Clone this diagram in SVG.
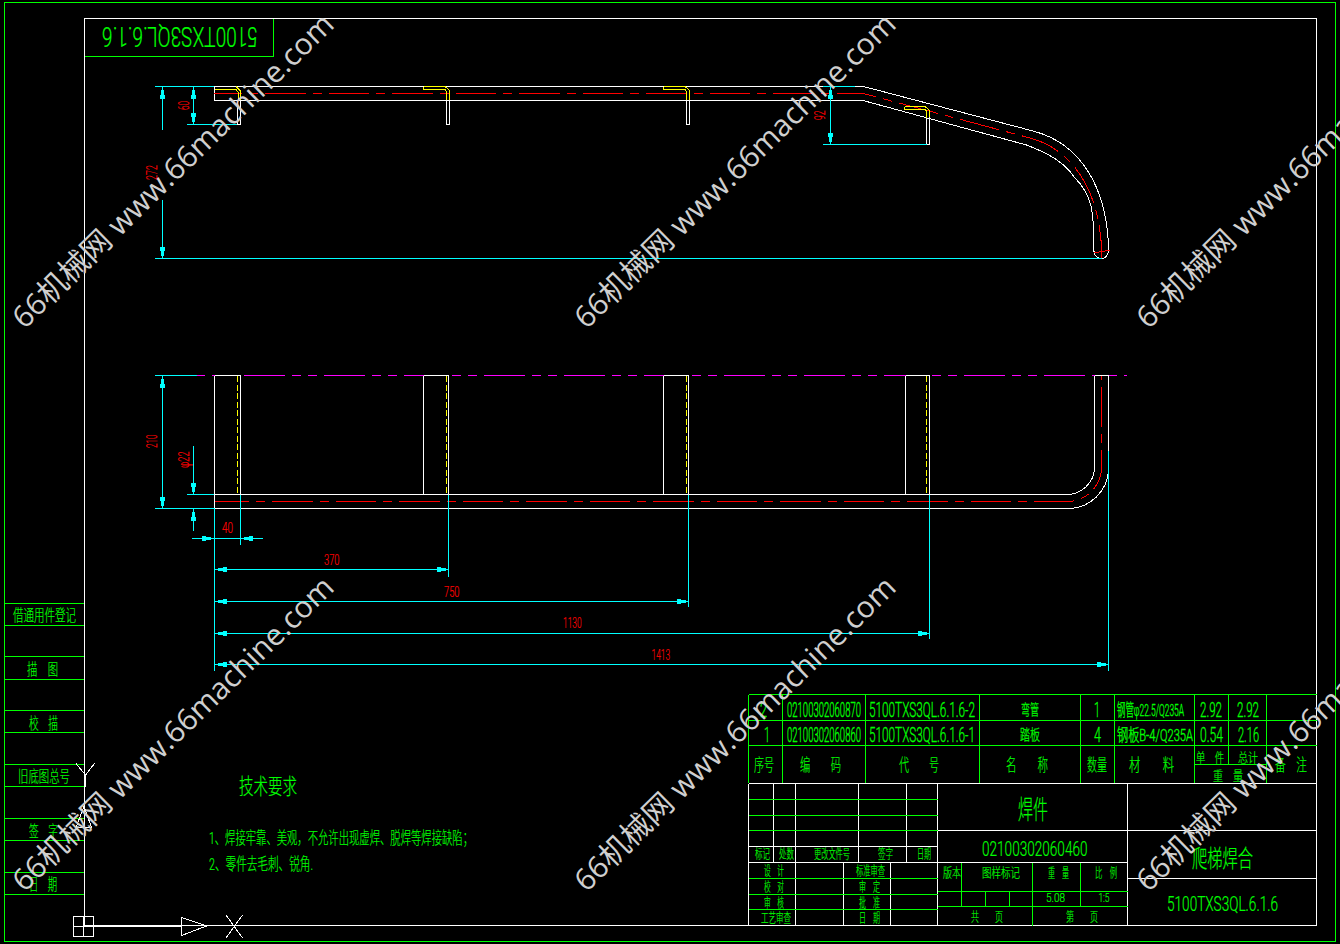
<svg xmlns="http://www.w3.org/2000/svg" width="1340" height="944" viewBox="0 0 1340 944">
<style>
.g{stroke:#0f0}.w{stroke:#fff}.c{stroke:#0ff}.y{stroke:#ff0}
path,line,polyline,polygon{fill:none;stroke-width:1;shape-rendering:crispEdges}
.rd{stroke:#f00;stroke-dasharray:40.5 7 9 7}
.yd{stroke:#ff0;stroke-dasharray:6 2.5}
.mg{stroke:#f0f;stroke-dasharray:41 7 9 7 9 7}
.a{marker-end:url(#ar)}
text{font-family:"Roboto","Noto Sans CJK SC",sans-serif;font-weight:300}
.t{fill:#0f0;stroke:#0f0;stroke-width:.2}
.r{fill:#f00;stroke:#f00;stroke-width:.2;font-size:15px;font-weight:300}
.wm{fill:#cfcfcf;font-family:"Open Sans","Noto Sans CJK SC",sans-serif;font-weight:400;font-size:30px}
</style>
<defs>
<marker id="ar" markerUnits="userSpaceOnUse" viewBox="-12 -3 12 6" refX="0" refY="0" markerWidth="12" markerHeight="6" orient="auto" overflow="visible"><path d="M-12-2.3H-8V-1.3H-3V1.3H-8V2.3H-12Z" style="fill:#0ff;stroke:none"/></marker>
<text id="wmt" class="wm" textLength="435" lengthAdjust="spacingAndGlyphs">66机械网 www.66machine.com</text>
</defs>
<rect width="1340" height="944" fill="#000"/>
<g id="frame">
<rect x="4.5" y="2.5" width="1331" height="939" class="g" fill="none" stroke-width="1" shape-rendering="crispEdges"/>
<rect x="84.5" y="18.5" width="1232" height="907" class="w" fill="none" stroke-width="1" shape-rendering="crispEdges"/>
<path class="g" d="M273.5 18.5V56.5H84.5"/>
<text class="t" transform="translate(258 26.7) rotate(180)" font-size="28" textLength="156" lengthAdjust="spacingAndGlyphs">5100TXS3QL.6.1.6</text>
</g>
<g id="left-strip">
<path class="g" d="M4.5 603.5H84M4.5 625.5H84M4.5 656.5H84M4.5 679.5H84M4.5 710.5H84M4.5 732.5H84M4.5 764.5H84M4.5 786.5H84M4.5 818.5H84M4.5 840.5H84M4.5 872.5H84M4.5 894.5H84"/>
<g class="t" font-size="16">
<text x="13" y="621" textLength="63" lengthAdjust="spacingAndGlyphs">借通用件登记</text>
<text x="27" y="675" textLength="31" lengthAdjust="spacingAndGlyphs">描　图</text>
<text x="29" y="729" textLength="29" lengthAdjust="spacingAndGlyphs">校　描</text>
<text x="18" y="782" textLength="52" lengthAdjust="spacingAndGlyphs">旧底图总号</text>
<text x="29" y="837" textLength="29" lengthAdjust="spacingAndGlyphs">签　字</text>
<text x="29" y="890" textLength="28" lengthAdjust="spacingAndGlyphs">日　期</text>
</g>
</g>
<g id="ucs-icon">
<path class="w" d="M73.5 916.5H93.5V936.5H73.5ZM83.5 916.5V936.5M73.5 926.5H93.5M84.5 776V916M83.5 926.5H182M83.5 925.5H182"/>
<path class="w" d="M85.5 775V787M76 763.5L85.5 775L94.5 763.5M84 806.5L91.5 827.5H76ZM181.5 917.5L206.5 926L181.5 935.5ZM226 915L242.5 938M242.5 915L226 938"/>
</g>
<g id="top-view">
<path class="w" d="M214.5 86.5H863.5L1033 131C1083 144 1106 190 1108.5 245C1110 252 1106 258.5 1102.5 258.5C1098 258.5 1094.5 256 1094 251.5C1094 210 1092 195 1075 178C1065 163 1050 154 1026.5 145L863 100.5H214.5V86.5Z"/>
<path class="w" d="M237.5 100V124.5H240.5V90M446.5 100V124.5H449.5V100M686.5 100V124.5H689.5V100M926.5 111V144.5H929.5V111"/>
<path class="rd" stroke-dashoffset="12.5" d="M214 93.5H863.3L1030 138C1072 149 1100 190 1101.7 251.7"/>
<path d="M1094 253L1110 250M1101.7 252V258" stroke="#f00"/>
<path class="y" d="M214.5 89.5H236L238 92V100M236 86.5L240.5 91V100"/>
<path class="y" d="M423.5 86.5V89.5H445L446.5 92V100M423.5 86.5H445L449 90V100"/>
<path class="y" d="M663.5 86.5V89.5H685L686.5 92V100M663.5 86.5H685L689 90V100"/>
<path class="y" d="M904.5 106.5V109.5H925L926.5 111V118M904.5 106.5H925L929.5 110.5V117"/>
</g>
<g id="front-view">
<path class="mg" stroke-dashoffset="33" d="M197 375.5H1127"/>
<path class="w" d="M214.5 375.5H240.5V494.5M214.5 375.5V508.5M423.5 375.5H448.5V494.5M423.5 375.5V494.5M663.5 375.5H688.5V494.5M663.5 375.5V494.5M905.5 375.5H929.5V494.5M905.5 375.5V494.5M1094.5 375.5H1108.5M214.5 494.5H1066.7A27.6 27.6 0 0 0 1094.5 467V375.5M214.5 508.5H1068A40.3 40.3 0 0 0 1108.5 468V375.5"/>
<path class="yd" d="M237.5 376V494M446.5 376V494M686.5 376V494M926.5 376V494"/>
<path class="rd" stroke-dashoffset="6" d="M214.5 501.5H1067A34.4 34.4 0 0 0 1101.5 467V376"/>
</g>
<g id="dimensions">
<path class="c" d="M155 86.5H214M823 86.5H855M155 258.5H1102M187 124.5H237M823 144.5H927"/>
<path class="c a" d="M162.5 130V86.5"/><path class="c a" d="M162.5 200V258.5"/>
<path class="c a" d="M193.5 105V86.5"/><path class="c a" d="M193.5 105V124.5"/>
<path class="c a" d="M830.5 115V86.5"/><path class="c a" d="M830.5 115V144.5"/>
<path class="c" d="M155 375.5H197M155 508.5H214M187 494.5H214"/>
<path class="c a" d="M162.5 440V375.5"/><path class="c a" d="M162.5 440V508.5"/>
<path class="c a" d="M193.5 446V494.5"/><path class="c a" d="M193.5 530.5V508.5"/>
<path class="c a" d="M192 538.5H214"/><path class="c a" d="M263 538.5H240.5"/><path class="c" d="M214 538.5H241"/>
<path class="c" d="M214.5 508V671M240.5 495V545M448.5 495V577M688.5 495V607M929.5 495V639M1108.5 451V671"/>
<path class="c a" d="M330 569.5H214.5"/><path class="c a" d="M330 569.5H448.5"/>
<path class="c a" d="M450 601.5H214.5"/><path class="c a" d="M450 601.5H688.5"/>
<path class="c a" d="M570 633.5H214.5"/><path class="c a" d="M570 633.5H929.5"/>
<path class="c a" d="M660 664.5H214.5"/><path class="c a" d="M660 664.5H1108.5"/>
<g class="r">
<text transform="translate(157 180) rotate(-90)" textLength="15" lengthAdjust="spacingAndGlyphs">272</text>
<text transform="translate(189 110) rotate(-90)" textLength="9" lengthAdjust="spacingAndGlyphs">60</text>
<text transform="translate(825 120) rotate(-90)" textLength="9.5" lengthAdjust="spacingAndGlyphs">92</text>
<text transform="translate(157 448) rotate(-90)" textLength="13.5" lengthAdjust="spacingAndGlyphs">210</text>
<text transform="translate(189 468) rotate(-90)" textLength="16.5" lengthAdjust="spacingAndGlyphs">φ22</text>
<text x="222" y="533" textLength="11" lengthAdjust="spacingAndGlyphs">40</text>
<text x="324" y="565" textLength="15.5" lengthAdjust="spacingAndGlyphs">370</text>
<text x="444" y="597" textLength="15.5" lengthAdjust="spacingAndGlyphs">750</text>
<text x="563" y="628" textLength="18.5" lengthAdjust="spacingAndGlyphs">1130</text>
<text x="651.5" y="660" textLength="18.5" lengthAdjust="spacingAndGlyphs">1413</text>
</g>
</g>
<g id="tech-notes" class="t">
<text x="239" y="794" font-size="22" textLength="58" lengthAdjust="spacingAndGlyphs">技术要求</text>
<text x="209" y="844" font-size="17" textLength="264" lengthAdjust="spacingAndGlyphs">1、焊接牢靠、美观，不允许出现虚焊、脱焊等焊接缺陷；</text>
<text x="209" y="870" font-size="17" textLength="104" lengthAdjust="spacingAndGlyphs">2、零件去毛刺、锐角.</text>
</g>
<g id="parts-list">
<path class="g" d="M748.5 694.5H1317M748.5 720.5H1317M748.5 745.5H1317M1194.5 764.5H1266.5M748.5 694.5V783M782.5 694.5V783M865.5 694.5V783M979.5 694.5V783M1080.5 694.5V783M1114.5 694.5V783M1194.5 694.5V783M1228.5 694.5V764M1266.5 694.5V783"/>
<g class="t" font-size="12">
<text transform="translate(760 716.5) scale(1 1.67)" textLength="7" lengthAdjust="spacingAndGlyphs">2</text>
<text transform="translate(787 716.5) scale(1 2.1)" font-size="9.5" textLength="74" lengthAdjust="spacingAndGlyphs">02100302060870</text>
<text transform="translate(869 716.5) scale(1 1.67)" textLength="106" lengthAdjust="spacingAndGlyphs">5100TXS3QL.6.1.6-2</text>
<text transform="translate(1021 715) scale(1 1.67)" font-size="9" textLength="18" lengthAdjust="spacingAndGlyphs">弯管</text>
<text transform="translate(1094 716.5) scale(1 1.67)" textLength="6" lengthAdjust="spacingAndGlyphs">1</text>
<text transform="translate(1117 716) scale(1 2.1)" font-size="8" textLength="67" lengthAdjust="spacingAndGlyphs">钢管φ22.5/Q235A</text>
<text transform="translate(1200 716.5) scale(1 1.67)" textLength="22" lengthAdjust="spacingAndGlyphs">2.92</text>
<text transform="translate(1237 716.5) scale(1 1.67)" textLength="22" lengthAdjust="spacingAndGlyphs">2.92</text>
<text transform="translate(764 741.5) scale(1 1.67)" textLength="6" lengthAdjust="spacingAndGlyphs">1</text>
<text transform="translate(787 741.5) scale(1 2.1)" font-size="9.5" textLength="74" lengthAdjust="spacingAndGlyphs">02100302060860</text>
<text transform="translate(869 741.5) scale(1 1.67)" textLength="106" lengthAdjust="spacingAndGlyphs">5100TXS3QL.6.1.6-1</text>
<text transform="translate(1020 740) scale(1 1.5)" font-size="10" textLength="20" lengthAdjust="spacingAndGlyphs">踏板</text>
<text transform="translate(1094 741.5) scale(1 1.67)" textLength="7" lengthAdjust="spacingAndGlyphs">4</text>
<text transform="translate(1117 741) scale(1 2.1)" font-size="8" textLength="76" lengthAdjust="spacingAndGlyphs">钢板B-4/Q235A</text>
<text transform="translate(1200 741.5) scale(1 1.67)" textLength="23" lengthAdjust="spacingAndGlyphs">0.54</text>
<text transform="translate(1238 741.5) scale(1 1.67)" textLength="21" lengthAdjust="spacingAndGlyphs">2.16</text>
</g>
<g class="t" font-size="17">
<text x="754" y="771" textLength="20" lengthAdjust="spacingAndGlyphs">序号</text>
<text x="800" y="771" textLength="41" lengthAdjust="spacingAndGlyphs">编　　码</text>
<text x="899" y="771" textLength="40" lengthAdjust="spacingAndGlyphs">代　　号</text>
<text x="1006" y="771" textLength="42" lengthAdjust="spacingAndGlyphs">名　　称</text>
<text x="1087" y="771" textLength="20" lengthAdjust="spacingAndGlyphs">数量</text>
<text x="1129" y="771" textLength="45" lengthAdjust="spacingAndGlyphs">材　　料</text>
<text x="1275" y="771" textLength="32" lengthAdjust="spacingAndGlyphs">备　注</text>
<g font-size="13">
<text x="1196" y="762" textLength="28" lengthAdjust="spacingAndGlyphs">单　件</text>
<text x="1238" y="762" textLength="20" lengthAdjust="spacingAndGlyphs">总计</text>
<text x="1213" y="780" textLength="30" lengthAdjust="spacingAndGlyphs">重　量</text>
</g>
</g>
</g>
<g id="title-block">
<path class="w" d="M748.5 783.5H1317M748.5 783.5V925.5M773.5 783.5V862M795.5 783.5V925.5M858.5 783.5V862M906.5 783.5V862M843.5 862V925.5M890.5 862V925.5M937.5 783.5V925.5M1127.5 783.5V925.5M937.5 830.5H1317M748.5 846.5H937.5M748.5 862.5H1127.5M1127.5 878.5H1317"/>
<path class="g" d="M748.5 799.5H937.5M748.5 815.5H937.5M748.5 830.5H937.5M748.5 878.5H937.5M748.5 894.5H937.5M748.5 909.5H937.5M937.5 891.5H1127.5M937.5 906.5H1127.5M961.5 862.5V906.5M985.5 891.5V906.5M1009.5 891.5V906.5M1032.5 862.5V925.5M1080.5 862.5V906.5"/>
<g class="t" font-size="13">
<text x="755" y="858" textLength="15" lengthAdjust="spacingAndGlyphs">标记</text>
<text x="779" y="858" textLength="15" lengthAdjust="spacingAndGlyphs">处数</text>
<text x="814" y="858" textLength="36" lengthAdjust="spacingAndGlyphs">更改文件号</text>
<text x="878" y="858" textLength="15" lengthAdjust="spacingAndGlyphs">签字</text>
<text x="917" y="858" textLength="14" lengthAdjust="spacingAndGlyphs">日期</text>
<text x="764" y="875" textLength="20" lengthAdjust="spacingAndGlyphs">设　计</text>
<text x="764" y="891" textLength="20" lengthAdjust="spacingAndGlyphs">校　对</text>
<text x="764" y="907" textLength="20" lengthAdjust="spacingAndGlyphs">审　核</text>
<text x="761" y="922" textLength="30" lengthAdjust="spacingAndGlyphs">工艺审查</text>
<text x="856" y="875" textLength="29" lengthAdjust="spacingAndGlyphs">标准审查</text>
<text x="859" y="891" textLength="21" lengthAdjust="spacingAndGlyphs">审　定</text>
<text x="859" y="907" textLength="21" lengthAdjust="spacingAndGlyphs">批　准</text>
<text x="859" y="922" textLength="21" lengthAdjust="spacingAndGlyphs">日　期</text>
<text x="943" y="877" textLength="18" lengthAdjust="spacingAndGlyphs">版本</text>
<text x="982" y="877" textLength="38" lengthAdjust="spacingAndGlyphs">图样标记</text>
<text x="1048" y="877" textLength="21" lengthAdjust="spacingAndGlyphs">重　量</text>
<text x="1095" y="877" textLength="22" lengthAdjust="spacingAndGlyphs">比　例</text>
<text x="1046" y="901.5" textLength="19" lengthAdjust="spacingAndGlyphs">5.08</text>
<text x="1098.5" y="901.5" textLength="11" lengthAdjust="spacingAndGlyphs">1:5</text>
<text x="971" y="921" textLength="32" lengthAdjust="spacingAndGlyphs">共　　页</text>
<text x="1066" y="921" textLength="32" lengthAdjust="spacingAndGlyphs">第　　页</text>
</g>
<g class="t">
<text x="1018" y="819" font-size="26" textLength="30" lengthAdjust="spacingAndGlyphs">焊件</text>
<text x="982" y="856" font-size="20" textLength="105.5" lengthAdjust="spacingAndGlyphs">02100302060460</text>
<text x="1192" y="867" font-size="24" textLength="61" lengthAdjust="spacingAndGlyphs">爬梯焊合</text>
<text x="1167" y="911" font-size="20" textLength="111" lengthAdjust="spacingAndGlyphs">5100TXS3QL.6.1.6</text>
</g>
</g>
<g id="watermark">
<use href="#wmt" transform="translate(24.5 330) rotate(-44.3)"/>
<use href="#wmt" transform="translate(586.5 330) rotate(-44.3)"/>
<use href="#wmt" transform="translate(1148.5 330) rotate(-44.3)"/>
<use href="#wmt" transform="translate(24.5 893) rotate(-44.3)"/>
<use href="#wmt" transform="translate(586.5 893) rotate(-44.3)"/>
<use href="#wmt" transform="translate(1148.5 893) rotate(-44.3)"/>
</g>
</svg>
